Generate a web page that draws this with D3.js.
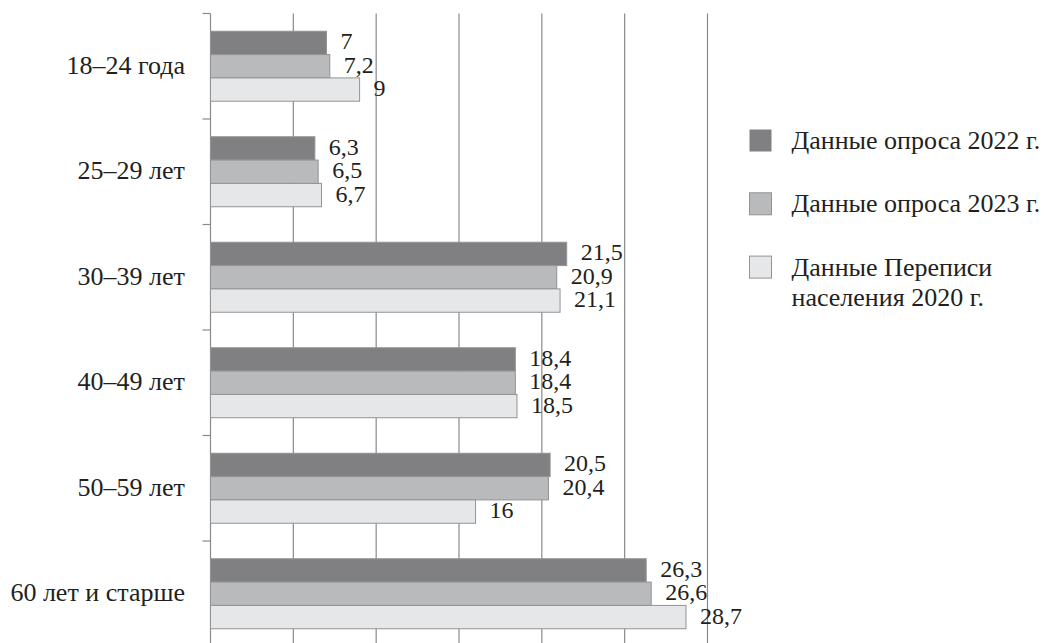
<!DOCTYPE html>
<html>
<head>
<meta charset="utf-8">
<script src="https://cdn.jsdelivr.net/npm/d3@7"></script>
<style>
  html, body { margin: 0; padding: 0; background: #fff; }
</style>
</head>
<body>
<div id="viz"></div>
<script>
// age groups, top to bottom
var categories = ["18–24 года", "25–29 лет", "30–39 лет", "40–49 лет", "50–59 лет", "60 лет и старше"];
var seriesNames = ["Данные опроса 2022 г.", "Данные опроса 2023 г.", "Данные Переписи населения 2020 г."];
var survey2022 = [7, 6.3, 21.5, 18.4, 20.5, 26.3];
var survey2023 = [7.2, 6.5, 20.9, 18.4, 20.4, 26.6];
var census2020 = [9, 6.7, 21.1, 18.5, 16, 28.7];
var gridTicks = [0, 5, 10, 15, 20, 25, 30];
var legendLines = [["Данные опроса 2022 г."], ["Данные опроса 2023 г."], ["Данные Переписи", "населения 2020 г."]];

var colors = ["#808083", "#b9babc", "#e6e7e8"];
var allSeries = [survey2022, survey2023, census2020];
var FONT = "'Liberation Serif', 'Times New Roman', serif";

var W = 1044, H = 643;
var svg = d3.select("#viz")
        .append("svg")
        .attr("width", W)
        .attr("height", H)
        .style("font-family", FONT);

var x = d3.scaleLinear().domain([0, 30]).range([210.5, 707.5]);
var y = d3.scaleBand().domain(categories).range([13.5, 646.5])
        .paddingInner(0.3365).paddingOuter(0.3365 / 2);
var ySub = d3.scaleBand().domain(d3.range(3)).range([0, y.bandwidth()]);

// vertical grid lines (behind bars)
svg.append("g")
    .selectAll("line")
    .data(gridTicks.slice(1))
    .enter()
    .append("line")
    .attr("x1", function(d) { return x(d); })
    .attr("x2", function(d) { return x(d); })
    .attr("y1", 13.5)
    .attr("y2", H)
    .style("stroke", "#8a8a8a")
    .style("stroke-width", 1.2);

// left axis with ticks between groups
var yAxis = d3.axisLeft(y).tickSize(0).tickFormat("");
var axisG = svg.append("g").attr("transform", "translate(" + x(0) + ",0)").call(yAxis);
axisG.select(".domain").remove();
axisG.append("line")
    .attr("y1", 13.5).attr("y2", H)
    .style("stroke", "#8a8a8a").style("stroke-width", 1.2);
var step = y.step();
axisG.selectAll(".sep")
    .data(d3.range(categories.length + 1))
    .enter()
    .append("line")
    .attr("x1", -8).attr("x2", 0)
    .attr("y1", function(i) { return 13.5 + i * step; })
    .attr("y2", function(i) { return 13.5 + i * step; })
    .style("stroke", "#8a8a8a").style("stroke-width", 1.2);

// category labels
svg.append("g")
    .selectAll("text")
    .data(categories)
    .enter()
    .append("text")
    .attr("x", 185)
    .attr("y", function(d) { return y(d) + y.bandwidth() / 2 + 7.5; })
    .attr("text-anchor", "end")
    .style("font-size", "26px")
    .style("fill", "#231f20")
    .text(function(d) { return d; });

// bars
var rows = [];
categories.forEach(function(c, i) {
    allSeries.forEach(function(s, j) {
        rows.push({cat: c, s: j, v: s[i]});
    });
});

svg.append("g")
    .selectAll("rect")
    .data(rows)
    .enter()
    .append("rect")
    .attr("x", x(0))
    .attr("y", function(d) { return y(d.cat) + ySub(d.s); })
    .attr("width", function(d) { return x(d.v) - x(0); })
    .attr("height", ySub.bandwidth())
    .style("fill", function(d) { return colors[d.s]; })
    .style("stroke", "#939393")
    .style("stroke-width", 1);

svg.append("g")
    .selectAll("text")
    .data(rows)
    .enter()
    .append("text")
    .attr("x", function(d) { return x(d.v) + 14; })
    .attr("y", function(d) { return y(d.cat) + ySub(d.s) + ySub.bandwidth() / 2 + 6.5; })
    .style("font-size", "24px")
    .style("fill", "#231f20")
    .text(function(d) { return String(d.v).replace(".", ","); });

// legend
var legend = svg.append("g")
    .selectAll("g")
    .data(legendLines)
    .enter()
    .append("g")
    .attr("transform", function(d, i) { return "translate(749.5," + (129.5 + 63.3 * i) + ")"; });

legend.append("rect")
    .attr("width", 22)
    .attr("height", 22)
    .style("fill", function(d, i) { return colors[i]; })
    .style("stroke", function(d, i) { return i == 0 ? "none" : "#939393"; });

legend.append("text")
    .attr("x", 42)
    .attr("y", 19.5)
    .style("font-size", "26px")
    .style("fill", "#231f20")
    .selectAll("tspan")
    .data(function(d) { return d; })
    .enter()
    .append("tspan")
    .attr("x", 42)
    .attr("dy", function(d, i) { return i == 0 ? 0 : 30; })
    .text(function(d) { return d; });
</script>
</body>
</html>
